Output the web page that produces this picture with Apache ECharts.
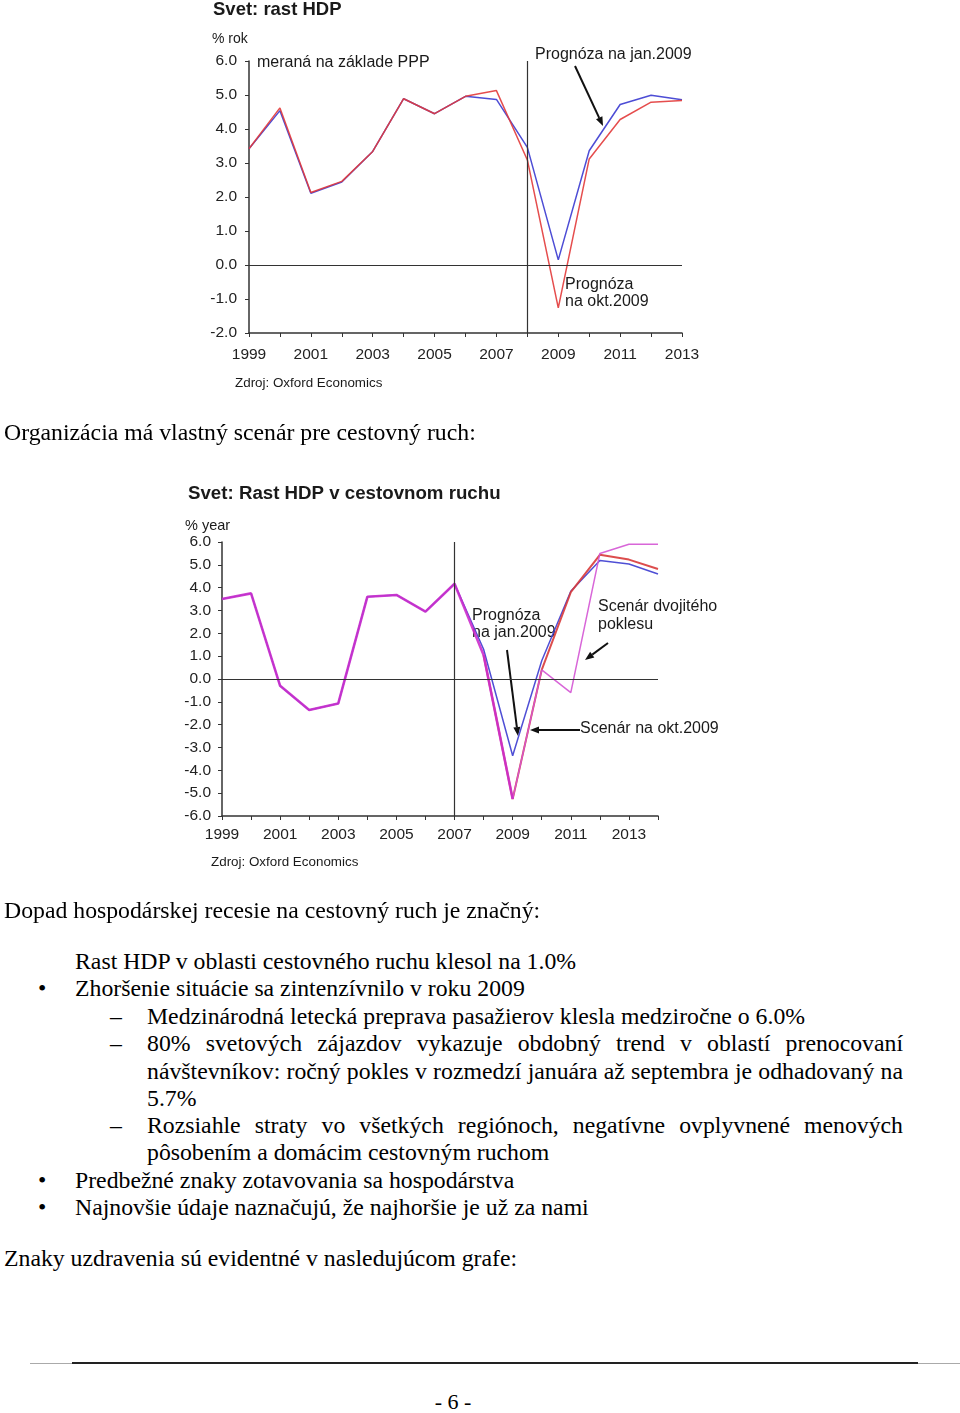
<!DOCTYPE html>
<html><head><meta charset="utf-8">
<script src="https://cdn.jsdelivr.net/npm/echarts@6/dist/echarts.min.js"></script>
<style>
html,body{margin:0;padding:0;background:#fff;}
#page{position:relative;width:960px;height:1413px;overflow:hidden;background:#fff;}
#chart{position:absolute;left:0;top:0;width:960px;height:900px;}
.t{position:absolute;font-family:"Liberation Serif","Times New Roman",serif;font-size:23.75px;line-height:28px;height:28px;color:#000;white-space:nowrap;}
.j{white-space:nowrap;text-align:justify;text-align-last:justify;width:756px;}
.hl{position:absolute;height:0;}
</style></head>
<body>
<div id="page">
<div id="chart"></div>
<div class="t" style="left:4px;top:418px;">Organizácia má vlastný scenár pre cestovný ruch:</div>
<div class="t" style="left:4px;top:896px;">Dopad hospodárskej recesie na cestovný ruch je značný:</div>
<div class="t" style="left:75px;top:947px;">Rast HDP v oblasti cestovného ruchu klesol na 1.0%</div>
<div class="t" style="left:38px;top:974px;">•</div>
<div class="t" style="left:75px;top:974px;">Zhoršenie situácie sa zintenzívnilo v roku 2009</div>
<div class="t" style="left:110px;top:1002px;">–</div>
<div class="t" style="left:147px;top:1002px;">Medzinárodná letecká preprava pasažierov klesla medziročne o 6.0%</div>
<div class="t" style="left:110px;top:1029px;">–</div>
<div class="t j" style="left:147px;top:1029px;">80% svetových zájazdov vykazuje obdobný trend v oblastí prenocovaní</div>
<div class="t j" style="left:147px;top:1057px;">návštevníkov: ročný pokles v rozmedzí januára až septembra je odhadovaný na</div>
<div class="t" style="left:147px;top:1084px;">5.7%</div>
<div class="t" style="left:110px;top:1111px;">–</div>
<div class="t j" style="left:147px;top:1111px;">Rozsiahle straty vo všetkých regiónoch, negatívne ovplyvnené menových</div>
<div class="t" style="left:147px;top:1138px;">pôsobením a domácim cestovným ruchom</div>
<div class="t" style="left:38px;top:1166px;">•</div>
<div class="t" style="left:75px;top:1166px;">Predbežné znaky zotavovania sa hospodárstva</div>
<div class="t" style="left:38px;top:1193px;">•</div>
<div class="t" style="left:75px;top:1193px;">Najnovšie údaje naznačujú, že najhoršie je už za nami</div>
<div class="t" style="left:4px;top:1244px;">Znaky uzdravenia sú evidentné v nasledujúcom grafe:</div>
<div class="hl" style="left:30px;width:930px;top:1363px;border-top:1px solid #aaa;"></div>
<div class="hl" style="left:72px;width:846px;top:1362px;border-top:2px solid #222;"></div>
<div class="t" style="left:0;width:906px;text-align:center;top:1388px;font-size:22px;">- 6 -</div>
</div>
<script>
// ---- Chart 1: World GDP growth (% y/y, PPP) ----
const years1 = ['1999','2000','2001','2002','2003','2004','2005','2006','2007','2008','2009','2010','2011','2012','2013'];
const gdpForecastJan09 = [3.42, 4.54, 2.11, 2.44, 3.34, 4.89, 4.45, 4.96, 4.87, 3.46, 0.15, 3.36, 4.72, 4.99, 4.86];
const gdpForecastOct09 = [3.42, 4.62, 2.13, 2.46, 3.34, 4.89, 4.45, 4.96, 5.13, 3.09, -1.26, 3.12, 4.28, 4.79, 4.84];

// ---- Chart 2: World travel & tourism GDP growth (% y/y) ----
const years2 = ['1999','2000','2001','2002','2003','2004','2005','2006','2007','2008','2009','2010','2011','2012','2013','2014'];
const tourismActual = [3.5, 3.75, -0.3, -1.36, -1.07, 3.6, 3.68, 2.95, 4.17, 1.05, -5.26, null, null, null, null, null];
const tourismJan09 = [3.5, 3.75, -0.3, -1.36, -1.07, 3.6, 3.68, 2.95, 4.17, 1.3, -3.36, 0.8, 3.84, 5.19, 5.04, 4.6];
const tourismOct09 = [null, null, null, null, null, null, null, null, null, 1.05, -5.26, 0.4, 3.8, 5.44, 5.23, 4.82];
const tourismDoubleDip = [null, null, null, null, null, null, null, null, null, null, -5.26, 0.4, -0.6, 5.5, 5.9, 5.9];

const SANS = '"Liberation Sans", Arial, sans-serif';
const AX = '#333';

function axX(grid, data, margin) {
  return {
    gridIndex: grid, type: 'category', data: data, boundaryGap: false,
    axisLine: {onZero: false, lineStyle: {color: AX, width: 1.5}},
    axisTick: {interval: 0, length: 4, lineStyle: {color: AX}},
    axisLabel: {interval: 1, margin: margin, fontSize: 15.5, color: '#222', fontFamily: SANS},
    splitLine: {show: false}
  };
}
function axY(grid, min, max, margin) {
  return {
    gridIndex: grid, type: 'value', min: min, max: max, interval: 1,
    axisLine: {show: true, lineStyle: {color: AX, width: 1.5}},
    axisTick: {show: true, length: 4, lineStyle: {color: AX}},
    axisLabel: {margin: margin, fontSize: 15.5, color: '#222', fontFamily: SANS, formatter: v => v.toFixed(1)},
    splitLine: {show: false}
  };
}
function refLines(xCat) {
  return {
    silent: true, symbol: 'none', label: {show: false},
    lineStyle: {color: '#333', width: 1.2, type: 'solid'},
    data: [{yAxis: 0}, {xAxis: xCat}]
  };
}
function line(grid, data, color, width, extra) {
  return Object.assign({
    type: 'line', xAxisIndex: grid, yAxisIndex: grid, data: data,
    showSymbol: false, symbol: 'none', connectNulls: false, silent: true,
    lineStyle: {color: color, width: width, opacity: 0.9}, itemStyle: {color: color}
  }, extra || {});
}
function txt(x, y, s, size, bold) {
  return {type: 'text', left: x, top: y, silent: true,
    style: {text: s, fontSize: size, fontFamily: SANS, fontWeight: bold ? 'bold' : 'normal', fill: '#1a1a1a'}};
}
function arrow(x1, y1, x2, y2) {
  const a = Math.atan2(y2 - y1, x2 - x1), L = 9, W = 3.5;
  const bx = x2 - L * Math.cos(a), by = y2 - L * Math.sin(a);
  const px = -Math.sin(a) * W, py = Math.cos(a) * W;
  return [
    {type: 'line', silent: true, shape: {x1: x1, y1: y1, x2: bx, y2: by}, style: {stroke: '#111', lineWidth: 2}},
    {type: 'polygon', silent: true, shape: {points: [[x2, y2], [bx + px, by + py], [bx - px, by - py]]}, style: {fill: '#111'}}
  ];
}

const chart = echarts.init(document.getElementById('chart'), null, {renderer: 'canvas'});
chart.setOption({
  animation: false,
  backgroundColor: '#fff',
  grid: [
    {left: 249, top: 61, width: 433, height: 272},
    {left: 222, top: 542, width: 436, height: 274}
  ],
  xAxis: [axX(0, years1, 14), axX(1, years2, 11)],
  yAxis: [axY(0, -2, 6, 12), axY(1, -6, 6, 11)],
  series: [
    line(0, gdpForecastJan09, '#3a3ad0', 1.5, {markLine: refLines('2008')}),
    line(0, gdpForecastOct09, '#e23a3a', 1.5),
    line(1, tourismJan09, '#3c3cd0', 1.5, {markLine: refLines('2007')}),
    line(1, tourismOct09, '#d83a3a', 2),
    line(1, tourismDoubleDip, '#d455d4', 1.5),
    line(1, tourismActual, '#cc2ecc', 2.6)
  ],
  graphic: [
    txt(213, 0, 'Svet: rast HDP', 18.5, true),
    txt(212, 32, '% rok', 14),
    txt(257, 55, 'meraná na základe PPP', 16),
    txt(535, 47, 'Prognóza na jan.2009', 16),
    txt(565, 277, 'Prognóza', 16),
    txt(565, 294, 'na okt.2009', 16),
    txt(235, 377, 'Zdroj: Oxford Economics', 13.4),
    ...arrow(575, 66, 603, 126),

    txt(188, 484, 'Svet: Rast HDP v cestovnom ruchu', 18.7, true),
    txt(185, 518, '% year', 14.5),
    txt(472, 608, 'Prognóza', 16),
    txt(472, 625, 'na jan.2009', 16),
    txt(598, 599, 'Scenár dvojitého', 16),
    txt(598, 617, 'poklesu', 16),
    txt(580, 721, 'Scenár na okt.2009', 16),
    txt(211, 856, 'Zdroj: Oxford Economics', 13.4),
    ...arrow(507, 650, 518, 736),
    ...arrow(608, 643, 585, 660),
    ...arrow(580, 730, 530, 730)
  ]
});
</script>
</body></html>
